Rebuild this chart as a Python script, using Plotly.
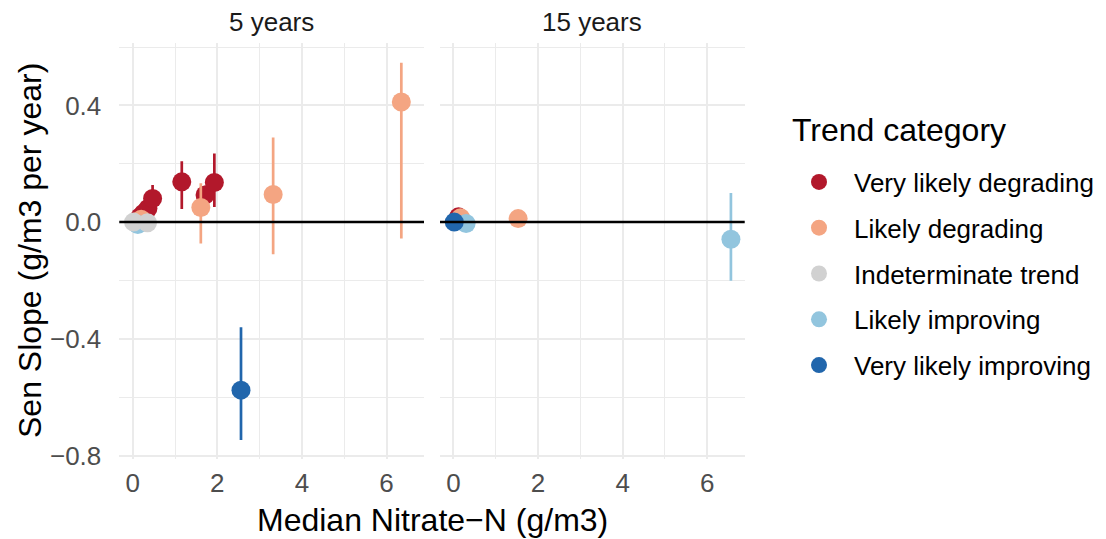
import plotly.graph_objects as go

# ---------------- data ----------------
categories = ["Very likely degrading", "Likely degrading", "Indeterminate trend",
              "Likely improving", "Very likely improving"]
periods = ["5 years", "15 years"]

pt_period = ["5 years"] * 15 + ["15 years"] * 6
pt_cat = (["Very likely degrading"] * 7 + ["Likely degrading"] * 4 +
          ["Indeterminate trend"] * 2 + ["Likely improving"] + ["Very likely improving"] +
          ["Very likely degrading"] + ["Likely degrading"] * 2 + ["Likely improving"] * 2 +
          ["Very likely improving"])
pt_x = [0.17, 0.25, 0.36, 0.47, 1.16, 1.71, 1.93,
        0.20, 1.61, 3.32, 6.35,
        0.02, 0.35, 0.12, 2.56,
        0.12, 0.17, 1.53, 0.30, 6.56, 0.02]
pt_y = [0.018, 0.030, 0.047, 0.081, 0.138, 0.093, 0.136,
        0.010, 0.050, 0.095, 0.412,
        0.000, -0.002, -0.008, -0.576,
        0.018, 0.015, 0.012, -0.005, -0.059, 0.000]
pt_lo = [0.008, 0.015, 0.025, 0.035, 0.045, 0.060, 0.052,
         0.000, -0.073, -0.110, -0.056,
         -0.010, -0.015, -0.015, -0.747,
         0.010, 0.005, 0.005, -0.012, -0.201, -0.005]
pt_hi = [0.030, 0.045, 0.070, 0.127, 0.209, 0.125, 0.235,
         0.020, 0.133, 0.290, 0.546,
         0.010, 0.010, 0.000, -0.360,
         0.025, 0.025, 0.020, 0.000, 0.100, 0.005]

x_tick_vals = [0, 2, 4, 6]
x_tick_text = ["0", "2", "4", "6"]
y_tick_vals = [0.4, 0.0, -0.4, -0.8]
y_tick_text = ["0.4", "0.0", "\u22120.4", "\u22120.8"]

# ---------------- style ----------------
colors = {"Very likely degrading": "#B2182B", "Likely degrading": "#F4A582",
          "Indeterminate trend": "#D1D1D1", "Likely improving": "#92C5DE",
          "Very likely improving": "#2166AC"}
draw_order = {"5 years": ["Very likely degrading", "Likely degrading", "Likely improving",
                          "Indeterminate trend", "Very likely improving"],
              "15 years": categories}
FONT = "Liberation Sans, Arial, sans-serif"
OFF = 8  # page body margin offset
W, H = 1106 - OFF, 539 - OFF


def px_x(p):
    return (p - OFF) / W


def px_y(p):
    return 1 - (p - OFF) / H


x_domains = [[px_x(119.3), px_x(424.0)], [px_x(440.0), px_x(744.7)]]
y_domain = [px_y(459), px_y(43)]

fig = go.Figure()
shown = set()
for pi, per in enumerate(periods):
    xa = "x" if pi == 0 else "x2"
    for cat in draw_order[per]:
        idx = [i for i in range(len(pt_x)) if pt_period[i] == per and pt_cat[i] == cat]
        if not idx:
            continue
        xs = [pt_x[i] for i in idx]
        ys = [pt_y[i] for i in idx]
        plus = [pt_hi[i] - pt_y[i] for i in idx]
        minus = [pt_y[i] - pt_lo[i] for i in idx]
        fig.add_trace(go.Scatter(
            x=xs, y=ys, mode="markers", xaxis=xa, yaxis="y",
            name=cat, legendgroup=cat, legendrank=categories.index(cat) + 1,
            showlegend=cat not in shown,
            marker=dict(color=colors[cat], size=19, line=dict(width=0)),
            error_y=dict(type="data", array=plus, arrayminus=minus, visible=True,
                         color=colors[cat], thickness=2.7, width=0),
        ))
        shown.add(cat)

for cat in categories:
    if cat not in shown:
        fig.add_trace(go.Scatter(x=[None], y=[None], mode="markers", name=cat,
                                 legendgroup=cat, legendrank=categories.index(cat) + 1,
                                 marker=dict(color=colors[cat], size=19)))

grid = "#EBEBEB"
axis_common = dict(showline=False, zeroline=False, ticks="", showgrid=True,
                   gridcolor=grid, gridwidth=2.2, automargin=False,
                   tickfont=dict(family=FONT, size=26, color="#4D4D4D"))
xcommon = dict(axis_common, range=[-0.317, 6.886], tickmode="array",
               tickvals=x_tick_vals, ticktext=x_tick_text, ticklabelstandoff=6,
               minor=dict(tickmode="linear", tick0=0, dtick=1, showgrid=True,
                          gridcolor=grid, gridwidth=1.2))
fig.update_layout(
    width=W, height=H, margin=dict(l=0, r=0, t=0, b=0, autoexpand=False),
    plot_bgcolor="white", paper_bgcolor="white",
    font=dict(family=FONT),
    xaxis=dict(xcommon, domain=x_domains[0], anchor="y"),
    xaxis2=dict(xcommon, domain=x_domains[1], anchor="y"),
    yaxis=dict(axis_common, domain=y_domain, range=[-0.812, 0.614], tickmode="array",
               tickvals=y_tick_vals, ticktext=y_tick_text, ticklabelstandoff=17,
               minor=dict(tickmode="linear", tick0=0, dtick=0.2, showgrid=True,
                          gridcolor=grid, gridwidth=1.2)),
    showlegend=True,
    legend=dict(x=px_x(784), xanchor="left", y=px_y(158.5), yanchor="top",
                font=dict(family=FONT, size=26, color="black"),
                tracegroupgap=9, itemwidth=60, bgcolor="rgba(0,0,0,0)"),
)

for xa in ["x", "x2"]:
    fig.add_shape(type="line", xref=f"{xa} domain", x0=0, x1=1, yref="y", y0=0, y1=0,
                  line=dict(color="black", width=2.5), layer="above")

for pi, per in enumerate(periods):
    cx = (x_domains[pi][0] + x_domains[pi][1]) / 2
    fig.add_annotation(text=per, x=cx, y=px_y(22), xref="paper", yref="paper",
                       showarrow=False, xanchor="center", yanchor="middle",
                       borderpad=0,
                       font=dict(family=FONT, size=26, color="#1A1A1A"))

fig.add_annotation(text="Trend category", x=px_x(790), y=px_y(130), xref="paper", yref="paper",
                   showarrow=False, xanchor="left", yanchor="middle",
                   font=dict(family=FONT, size=32, color="black"))
fig.add_annotation(text="Median Nitrate\u2212N (g/m3)", x=(x_domains[0][0] + x_domains[1][1]) / 2,
                   y=px_y(520), xref="paper", yref="paper", showarrow=False,
                   xanchor="center", yanchor="middle",
                   font=dict(family=FONT, size=32, color="black"))
fig.add_annotation(text="Sen Slope (g/m3 per year)", x=px_x(30), y=(y_domain[0] + y_domain[1]) / 2,
                   xref="paper", yref="paper", showarrow=False, textangle=-90,
                   xanchor="center", yanchor="middle",
                   font=dict(family=FONT, size=32, color="black"))

fig.write_html("out.html")
